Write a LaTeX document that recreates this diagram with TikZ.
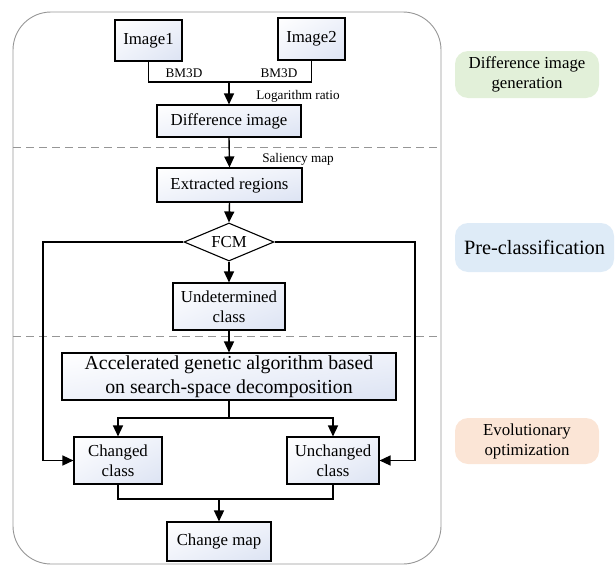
\documentclass[tikz,border=0pt]{standalone}
\usepackage{fontspec}
\setmainfont{Liberation Serif}
\usepackage{xcolor}
\usetikzlibrary{arrows.meta,shapes.geometric,shadings,calc,positioning}

\definecolor{boxblue}{RGB}{220,227,243}
\definecolor{boxmid}{RGB}{239,242,250}
\definecolor{stagegreen}{RGB}{226,240,217}
\definecolor{stageblue}{RGB}{222,235,247}
\definecolor{stageorange}{RGB}{251,229,214}
\definecolor{framegray}{RGB}{150,150,150}

\begin{document}
\begin{tikzpicture}[x=1pt,y=-1pt,
		stepbox/.style={draw,line width=1.1pt,inner sep=1pt,align=center,
			upper left=white,upper right=boxmid,lower left=boxmid,lower right=boxblue,
			font=\fontsize{16.8pt}{20pt}\selectfont},
		stage/.style={rounded corners=13pt,inner sep=1pt,align=center,
			font=\fontsize{16.8pt}{20pt}\selectfont},
		note/.style={font=\fontsize{13.2pt}{16pt}\selectfont},
		flow/.style={line width=1.4pt},
		arr/.style={line width=1.4pt,-{Triangle[length=11pt,width=10pt]}}]
		\useasboundingbox (0,0) rectangle (616,565);
		% frame and stage separators
		\draw [draw=framegray, line width=0.9pt, rounded corners=38pt] (13,12) rectangle (441,564);
		\draw [draw=framegray, line width=0.9pt, dash pattern=on 8pt off 5pt] (13,147) -- (441,147);
		\draw [draw=framegray, line width=0.9pt, dash pattern=on 8pt off 5pt] (13,336) -- (441,336);
		% boxes
		\node [stepbox, minimum width=67pt, minimum height=41pt] (img1) at (148.5,40.5) {Image1};
		\node [stepbox, minimum width=67pt, minimum height=42pt] (img2) at (311.5,39) {Image2};
		\node [stepbox, minimum width=144pt, minimum height=32pt] (diff) at (229,121) {Difference image};
		\node [stepbox, minimum width=145pt, minimum height=34pt] (extr) at (229.5,185) {Extracted regions};
		\node [diamond, draw, line width=1.1pt, aspect=2.37, inner sep=1pt, minimum width=90pt, minimum height=38pt,
			fill=white, font=\fontsize{16.8pt}{20pt}\selectfont] (fcm) at (229,242) {FCM};
		\node [stepbox, minimum width=112pt, minimum height=47pt] (und) at (229,306.5) {Undetermined\\class};
		\node [stepbox, minimum width=334pt, minimum height=47pt, font=\fontsize{19.8pt}{24pt}\selectfont] (acc) at (229,376.5)
			{Accelerated genetic algorithm based\\on search-space decomposition};
		\node [stepbox, minimum width=88pt, minimum height=47pt] (chg) at (118,460.5) {Changed\\class};
		\node [stepbox, minimum width=92pt, minimum height=47pt] (unc) at (333,460.5) {Unchanged\\class};
		\node [stepbox, minimum width=104pt, minimum height=39pt] (map) at (219,541.5) {Change map};
		% stage labels
		\node [stage, fill=stagegreen, minimum width=144pt, minimum height=47pt] (gen) at (527,74.5) {Difference image\\generation};
		\node [stage, fill=stageblue, minimum width=159pt, minimum height=49pt, font=\fontsize{20.3pt}{24pt}\selectfont] (pre) at (534.5,247.5) {Pre-classification};
		\node [stage, fill=stageorange, minimum width=144pt, minimum height=46pt] (evo) at (527,441) {Evolutionary\\optimization};
		% small labels
		\node [note] (bm1) at (184,73) {BM3D};
		\node [note] (bm2) at (279,73) {BM3D};
		\node [note] (lograt) at (298,96) {Logarithm ratio};
		\node [note] (sal) at (298,159) {Saliency map};
		% junctions
		\coordinate (j1) at (229,82);
		\coordinate (j2) at (229,418);
		\coordinate (j3) at (219,499);
		\coordinate (fl) at (43,242);
		\coordinate (fr) at (415,242);
		% connectors
		\draw [flow] (img1.south) |- (j1) -| (img2.south);
		\draw [arr] (j1) -- (diff.north);
		\draw [arr] (diff.south) -- (extr.north);
		\draw [arr] (extr.south) -- (fcm.north);
		\draw [arr] (fcm.south) -- (und.north);
		\draw [arr] (und.south) -- (acc.north);
		\draw [arr] (fcm.west) -- (fl) |- (chg.west);
		\draw [arr] (fcm.east) -- (fr) |- (unc.east);
		\draw [flow] (acc.south) -- (j2);
		\draw [arr] (j2) -| (chg.north);
		\draw [arr] (j2) -| (unc.north);
		\draw [flow] (chg.south) |- (j3) -| (unc.south);
		\draw [arr] (j3) -- (map.north);
	\end{tikzpicture}
\end{document}
